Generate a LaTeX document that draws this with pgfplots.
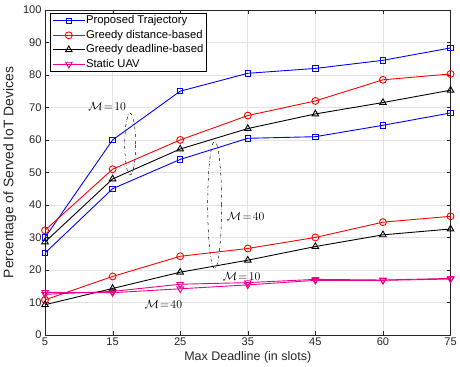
\documentclass[border=0pt]{standalone}
\usepackage{pgfplots}
\pgfplotsset{compat=1.18}
\usepackage{fontspec}
\setmainfont{Liberation Sans}
\definecolor{axgray}{HTML}{262626}
\begin{document}
\begin{tikzpicture}
\begin{axis}[
  scale only axis,
  width=408bp, height=327bp,
  xmin=0, xmax=6, ymin=0, ymax=100,
  xtick={0,1,2,3,4,5,6},
  xticklabels={5,15,25,35,45,60,75},
  ytick={0,10,...,100},
  tick align=inside,
  major tick length=4bp,
  grid=major,
  major grid style={draw=gray!22, line width=0.6pt},
  axis line style={draw=axgray, line width=0.6pt},
  tick style={draw=axgray},
  tick label style={font=\fontsize{11.2}{13}\selectfont, text=axgray},
  xticklabel style={yshift=1bp},
  /pgf/number format/assume math mode=true,
  xlabel={Max Deadline (in slots)},
  ylabel={Percentage of Served IoT Devices},
  xlabel style={font=\fontsize{12.6}{14}\selectfont, text=axgray, yshift=1bp},
  ylabel style={font=\fontsize{14}{16}\selectfont, text=axgray, yshift=0bp},
  legend style={at={(rel axis cs:0.013,0.99)}, anchor=north west,
    font=\fontsize{11.4}{13}\selectfont, draw=black, line width=0.6pt,
    inner xsep=2pt, inner ysep=2pt, row sep=3.5bp, cells={anchor=west},
    nodes={inner xsep=1pt, inner ysep=0pt, text height=8.5bp, text depth=2.5bp}},
  legend image post style={line width=0.9pt},
  legend image code/.code={\draw[mark repeat=2,mark phase=2] plot coordinates {(0cm,0cm) (0.56cm,0cm) (1.12cm,0cm)};},
  every axis plot/.append style={line width=0.9pt},
]
% M=10
\addplot[blue, mark=square, mark size=2.7pt] coordinates {(0,30) (1,60) (2,75) (3,80.5) (4,82) (5,84.5) (6,88.3)};
\addlegendentry{Proposed Trajectory}
\addplot[red, mark=o, mark size=3.5pt] coordinates {(0,32.2) (1,51) (2,60) (3,67.5) (4,72) (5,78.5) (6,80.3)};
\addlegendentry{Greedy distance-based}
\addplot[black, mark=triangle, mark size=3.8pt] coordinates {(0,28.6) (1,48) (2,57.2) (3,63.5) (4,68) (5,71.5) (6,75.3)};
\addlegendentry{Greedy deadline-based}
\addplot[magenta, mark=triangle, mark options={rotate=180}, mark size=3.8pt] coordinates {(0,12.5) (1,13.4) (2,15.6) (3,16.1) (4,17.1) (5,16.9) (6,17.4)};
\addlegendentry{Static UAV}
% M=40
\addplot[blue, mark=square, mark size=2.7pt, forget plot] coordinates {(0,25.2) (1,45) (2,54) (3,60.5) (4,61) (5,64.5) (6,68.3)};
\addplot[red, mark=o, mark size=3.5pt, forget plot] coordinates {(0,10.8) (1,18) (2,24.2) (3,26.6) (4,30) (5,34.7) (6,36.5)};
\addplot[black, mark=triangle, mark size=3.8pt, forget plot] coordinates {(0,9.3) (1,14.3) (2,19.3) (3,23) (4,27.2) (5,30.8) (6,32.6)};
\addplot[magenta, mark=triangle, mark options={rotate=180}, mark size=3.8pt, forget plot] coordinates {(0,13.1) (1,13) (2,14.2) (3,15.4) (4,16.8) (5,16.8) (6,17.2)};
% annotations
\draw[dash dot, black, line width=0.5pt] (axis cs:1.26,58.7) ellipse [x radius=5.5bp, y radius=31bp];
\draw[dash dot, black, line width=0.5pt] (axis cs:2.51,40) ellipse [x radius=7bp, y radius=64bp];
\node[font=\fontsize{11.5}{13}\selectfont] at (axis cs:0.92,70.3) {$\mathcal{M}\!=\!10$};
\node[font=\fontsize{11.5}{13}\selectfont] at (axis cs:2.97,36.5) {$\mathcal{M}\!=\!40$};
\node[font=\fontsize{11.5}{13}\selectfont] at (axis cs:2.91,18) {$\mathcal{M}\!=\!10$};
\node[font=\fontsize{11.5}{13}\selectfont] at (axis cs:1.75,9.5) {$\mathcal{M}\!=\!40$};
\end{axis}
\path ([yshift=10bp]current axis.north east) ++(5bp,0);
\end{tikzpicture}
\end{document}
